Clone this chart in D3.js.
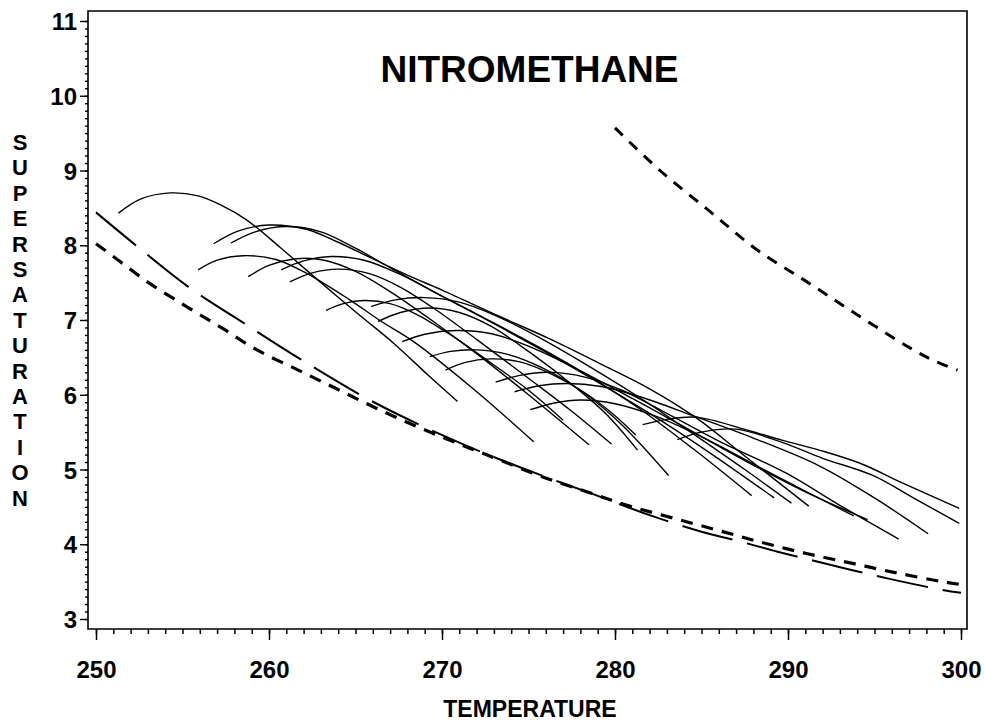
<!DOCTYPE html>
<html><head><meta charset="utf-8">
<script src="https://cdn.jsdelivr.net/npm/d3@7"></script>
<style>
body{margin:0;background:#fff}
svg{display:block}
text{font-family:"Liberation Sans",Arial,Helvetica,sans-serif;font-weight:bold;fill:#000}
</style>
</head><body>
<svg id="chart" width="984" height="721"></svg>
<script>
// ---- data ----
const chartTitle = "NITROMETHANE";
const xTitle = "TEMPERATURE";
const yTitle = "SUPERSATURATION";
const xTicks = [250, 260, 270, 280, 290, 300];
const yTicks = [3, 4, 5, 6, 7, 8, 9, 10, 11];

const upperDashed = [[280.0,9.57],[282.6,9.00],[285.5,8.45],[288.2,7.94],[291.1,7.51],[294.0,7.07],[297.1,6.62],[298.4,6.46],[299.8,6.33]];
const lowerDashed = [[250,8.02],[251,7.85],[253.1,7.49],[255.3,7.17],[257.3,6.89],[259.3,6.60],[261.6,6.34],[263.9,6.08],[266.2,5.82],[268.6,5.57],[270.9,5.35],[273.2,5.14],[275.7,4.91],[278.4,4.70],[280.7,4.52],[283.2,4.36],[285.9,4.19],[288.4,4.03],[291.0,3.88],[293.6,3.75],[296.2,3.62],[298.9,3.50],[300,3.46]];
const longDashed = [[250,8.44],[252.3,8.00],[255.3,7.45],[258.6,6.95],[262.0,6.45],[265.5,5.97],[268.5,5.62],[271,5.36],[273.5,5.12],[276,4.90],[278.5,4.69],[282,4.39],[285.1,4.16],[287,4.05],[289.4,3.90],[291.5,3.78],[293.6,3.66],[296,3.53],[298.9,3.39],[300,3.35]];

const curve01 = [[251.3,8.43],[252.6,8.62],[254.3,8.70],[255.9,8.66],[257.2,8.54],[258.7,8.34],[260.6,7.98],[262.6,7.58],[265.1,7.09],[267.2,6.69],[269.3,6.24],[270.9,5.91]];
const curve02 = [[256.8,8.02],[258.2,8.19],[260.0,8.27],[262.2,8.21],[263.9,8.05],[265.9,7.83],[268.0,7.60],[270.0,7.40],[273.4,7.04],[276.2,6.75],[279.1,6.42],[282.0,6.08],[284.7,5.69],[287.5,5.18],[291.2,4.51]];
const curve03 = [[257.8,8.03],[259.2,8.18],[261.0,8.25],[263.0,8.18],[265.0,7.96],[267.0,7.70],[269.5,7.38],[272.5,7.02],[275.5,6.65],[278.5,6.25],[281.5,5.80],[284.5,5.28],[287.9,4.65]];
const curve04 = [[255.9,7.67],[257.0,7.80],[258.5,7.86],[260.4,7.81],[262.2,7.62],[264.6,7.28],[266.5,6.98],[268.3,6.72],[271.8,6.08],[275.3,5.37]];
const curve05 = [[258.8,7.58],[260.0,7.73],[261.6,7.82],[263.2,7.80],[265.0,7.65],[267.0,7.38],[269.5,6.98],[272.0,6.55],[275.0,6.00],[278.5,5.33]];
const curve06 = [[260.7,7.67],[262.0,7.79],[263.6,7.85],[265.5,7.80],[267.5,7.62],[270.0,7.32],[273.0,6.95],[276.0,6.57],[279.0,6.17],[282.0,5.75],[285.5,5.22],[289.2,4.62]];
const curve07 = [[261.2,7.51],[262.5,7.63],[264.0,7.68],[265.8,7.62],[267.5,7.45],[269.5,7.16],[272.0,6.74],[275.0,6.22],[277.5,5.78],[279.8,5.34]];
const curve08 = [[263.3,7.13],[264.3,7.22],[265.5,7.26],[267.0,7.22],[268.5,7.08],[270.5,6.80],[272.5,6.48],[275.0,6.06],[277.0,5.66]];
const curve09 = [[265.9,7.18],[267.3,7.27],[269.0,7.30],[271.0,7.24],[273.0,7.07],[275.5,6.78],[278.5,6.38],[281.5,5.95],[284.5,5.48],[287.5,5.00],[290.2,4.55]];
const curve10 = [[266.3,6.98],[267.6,7.10],[269.3,7.16],[271.0,7.10],[272.8,6.92],[275.0,6.58],[277.5,6.14],[279.5,5.74],[281.3,5.26]];
const curve11 = [[267.7,6.71],[269.0,6.81],[270.8,6.86],[272.8,6.82],[275.0,6.65],[278.0,6.32],[281.0,5.95],[284.0,5.57],[287.5,5.12],[291.0,4.70],[294.6,4.33]];
const curve12 = [[269.3,6.51],[270.5,6.58],[272.0,6.60],[273.8,6.54],[275.8,6.36],[278.0,6.06],[280.3,5.62],[283.1,4.92]];
const curve13 = [[270.2,6.33],[271.3,6.43],[272.8,6.48],[274.5,6.44],[276.3,6.28],[278.3,6.02],[280.0,5.72],[281.2,5.46]];
const curve14 = [[273.1,6.17],[274.5,6.26],[276.2,6.30],[278.2,6.24],[280.5,6.05],[283.0,5.75],[286.0,5.38],[289.9,4.95],[293.0,4.52],[296.4,4.07]];
const curve15 = [[274.2,6.04],[275.6,6.12],[277.2,6.15],[279.2,6.11],[281.5,5.97],[284.5,5.72],[288.0,5.42],[291.8,5.05],[295.0,4.62],[298.1,4.14]];
const curve16 = [[275.1,5.80],[276.5,5.89],[278.0,5.93],[280.0,5.88],[282.5,5.70],[285.5,5.38],[289.0,4.95],[293.8,4.38]];
const curve17 = [[281.6,5.60],[283.0,5.67],[284.7,5.70],[287.6,5.53],[289.7,5.39],[291.8,5.26],[294.2,5.08],[296.7,4.81],[299.9,4.48]];
const curve18 = [[283.6,5.40],[285.0,5.50],[287.0,5.54],[289.7,5.36],[292.0,5.15],[294.9,4.92],[297.4,4.60],[299.9,4.28]];
const solidCurves = [curve01,curve02,curve03,curve04,curve05,curve06,curve07,curve08,curve09,curve10,curve11,curve12,curve13,curve14,curve15,curve16,curve17,curve18];

// ---- layout ----
const svg = d3.select("#chart");
const frame = {left: 88, right: 967, top: 11, bottom: 629};
const x = d3.scaleLinear().domain([250, 300]).range([96, 961]);
const y = d3.scaleLinear().domain([3, 11]).range([619, 21]);

// frame lines
svg.append("path")
  .attr("d", `M${frame.left},${frame.top}H${frame.right}V${frame.bottom}H${frame.left}Z`)
  .attr("fill", "none").attr("stroke", "#000").attr("stroke-width", 1.6);

// x axis
const xMinor = svg.append("g").attr("transform", `translate(0,${frame.bottom})`)
  .call(d3.axisBottom(x).tickValues(d3.range(250, 301, 1)).tickSize(5).tickFormat(""));
const xMajor = svg.append("g").attr("transform", `translate(0,${frame.bottom})`)
  .call(d3.axisBottom(x).tickValues(xTicks).tickSize(11).tickFormat(d3.format("d")));
[xMinor, xMajor].forEach(g => { g.select(".domain").remove(); g.selectAll("line").attr("stroke-width", 1.5); });
xMajor.selectAll("text").attr("y", 678 - frame.bottom).attr("dy", 0)
  .style("font-size", "24px").style("font-family", '"Liberation Sans",Arial,sans-serif').style("font-weight", "bold");

// y axis
const yMinor = svg.append("g").attr("transform", `translate(${frame.left},0)`)
  .call(d3.axisLeft(y).tickValues(d3.range(30, 111, 1).map(v => v / 10)).tickSize(3).tickFormat(""));
const yMajor = svg.append("g").attr("transform", `translate(${frame.left},0)`)
  .call(d3.axisLeft(y).tickValues(yTicks).tickSize(8).tickPadding(3).tickFormat(d3.format("d")));
[yMinor, yMajor].forEach(g => { g.select(".domain").remove(); g.selectAll("line").attr("stroke-width", 1.4); });
yMajor.selectAll("text").attr("dy", "0.36em")
  .style("font-size", "24px").style("font-family", '"Liberation Sans",Arial,sans-serif').style("font-weight", "bold");

// titles
svg.append("text").attr("x", 529.5).attr("y", 82).attr("text-anchor", "middle")
  .style("font-size", "37px").text(chartTitle);
svg.append("text").attr("x", 530).attr("y", 717).attr("text-anchor", "middle")
  .style("font-size", "23px").text(xTitle);
const yT = svg.append("text").attr("text-anchor", "middle").style("font-size", "22px");
yTitle.split("").forEach((ch, i) => {
  yT.append("tspan").attr("x", 20).attr("y", 150 + i * 25.4).text(ch);
});

// lines
const line = d3.line().x(d => x(d[0])).y(d => y(d[1])).curve(d3.curveCatmullRom.alpha(0.5));
const marks = svg.append("g").attr("fill", "none").attr("stroke", "#000").attr("stroke-linecap", "butt");

marks.selectAll("path.solid").data(solidCurves).join("path").attr("class", "solid")
  .attr("d", line).attr("stroke-width", 1.4);

marks.append("path").datum(longDashed).attr("d", line)
  .attr("stroke-width", 2).attr("stroke-dasharray", "52,15");
marks.append("path").datum(lowerDashed).attr("d", line)
  .attr("stroke-width", 3.2).attr("stroke-dasharray", "12,9");
marks.append("path").datum(upperDashed).attr("d", line)
  .attr("stroke-width", 3).attr("stroke-dasharray", "11,9");
</script>
</body></html>
